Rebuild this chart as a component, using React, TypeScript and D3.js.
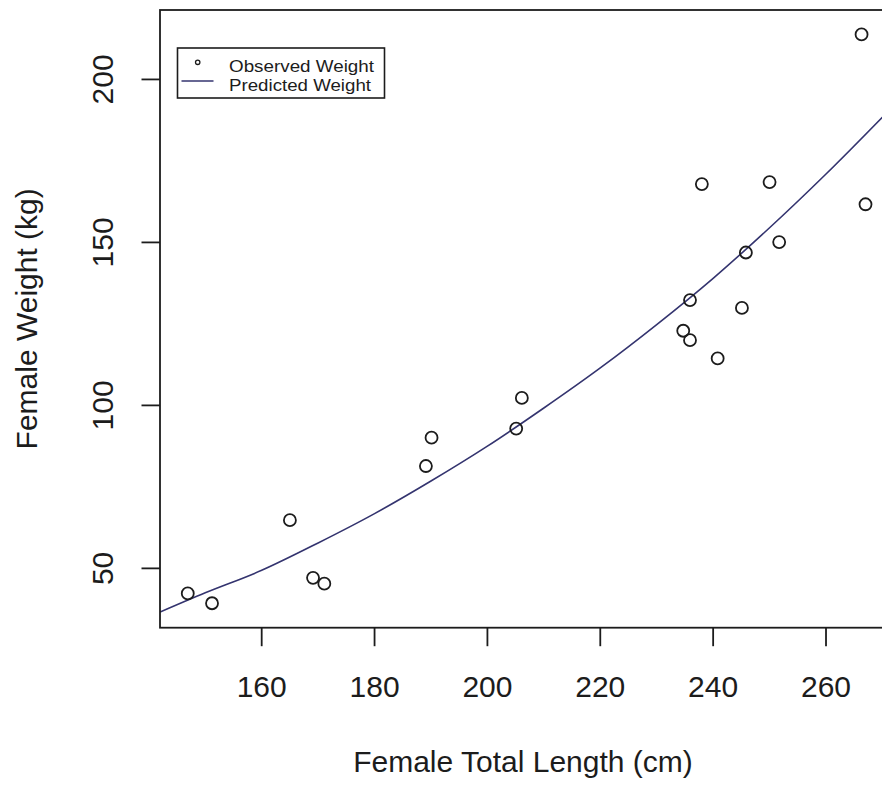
import React from "react";
import * as d3 from "d3";

// Observed female measurements
const femaleLength: number[] = [
  146.9, 151.2, 165.0, 169.1, 171.1, 189.1, 190.1, 205.1, 206.1, 234.7,
  235.9, 235.9, 240.8, 238.0, 245.1, 245.8, 250.0, 251.7, 266.3, 267.0,
];
const femaleWeight: number[] = [
  42.3, 39.3, 64.8, 47.1, 45.3, 81.4, 90.1, 92.9, 102.3, 122.9,
  120.0, 132.3, 114.4, 167.9, 129.9, 146.9, 168.5, 150.1, 213.8, 161.7,
];

// Predicted weight along the length range
const predLength: number[] = [142, 150, 160, 170, 180, 190, 200, 210, 220, 230, 240, 250, 260, 272];
const predWeight: number[] = [36.6, 42.5, 49.4, 57.8, 66.8, 76.8, 87.5, 99.2, 111.5, 124.8, 139.0, 154.5, 171.0, 192.0];

const xTicks: number[] = [160, 180, 200, 220, 240, 260];
const yTicks: number[] = [50, 100, 150, 200];

const legendLabels: string[] = ["Observed Weight", "Predicted Weight"];
const legendWidths: number[] = [145, 142];

const W = 882;
const H = 785;
const plot = { left: 160, top: 10, right: 892.6, bottom: 627.7 };
const FONT = "'Liberation Sans', Arial, Helvetica, sans-serif";
const INK = "#1c1c1c";
const CURVE = "#34346f";

export default function App() {
  const x = d3.scaleLinear().domain([141.98, 271.8]).range([plot.left, plot.right]);
  const y = d3.scaleLinear().domain([31.8, 221.3]).range([plot.bottom, plot.top]);

  const pred = predLength.map((l, i) => [l, predWeight[i]] as [number, number]);
  const linePath = d3
    .line<[number, number]>()
    .x((d) => x(d[0]))
    .y((d) => y(d[1]))
    .curve(d3.curveMonotoneX)(pred) as string;

  const tickLen = 18.5;
  const midY = (plot.top + plot.bottom) / 2;

  return (
    <svg
      width={W}
      height={H}
      viewBox={`0 0 ${W} ${H}`}
      style={{ position: "absolute", left: 0, top: 0, background: "#fff", overflow: "hidden" }}
      fontFamily={FONT}
    >
      <rect x={0} y={0} width={W} height={H} fill="#fff" />
      <defs>
        <clipPath id="plotClip">
          <rect x={plot.left} y={plot.top} width={plot.right - plot.left} height={plot.bottom - plot.top} />
        </clipPath>
      </defs>

      {/* predicted curve */}
      <path d={linePath} fill="none" stroke={CURVE} strokeWidth={1.6} clipPath="url(#plotClip)" />

      {/* observed points */}
      {femaleLength.map((l, i) => (
        <circle
          key={i}
          cx={x(l)}
          cy={y(femaleWeight[i])}
          r={6}
          fill="none"
          stroke={INK}
          strokeWidth={1.8}
        />
      ))}

      {/* plot frame */}
      <rect
        x={plot.left}
        y={plot.top}
        width={plot.right - plot.left}
        height={plot.bottom - plot.top}
        fill="none"
        stroke={INK}
        strokeWidth={1.8}
      />

      {/* x axis */}
      {xTicks.map((t) => (
        <g key={t}>
          <line x1={x(t)} x2={x(t)} y1={plot.bottom} y2={plot.bottom + tickLen} stroke={INK} strokeWidth={1.8} />
          <text x={x(t)} y={696.5} textAnchor="middle" fontSize={30} fill={INK}>
            {t}
          </text>
        </g>
      ))}

      {/* y axis */}
      {yTicks.map((t) => (
        <g key={t}>
          <line x1={plot.left - tickLen} x2={plot.left} y1={y(t)} y2={y(t)} stroke={INK} strokeWidth={1.8} />
          <text
            transform={`translate(113,${y(t)}) rotate(-90)`}
            textAnchor="middle"
            fontSize={30}
            fill={INK}
          >
            {t}
          </text>
        </g>
      ))}

      {/* axis titles */}
      <text x={523} y={771.5} textAnchor="middle" fontSize={30} fill={INK}>
        Female Total Length (cm)
      </text>
      <text transform={`translate(37,${midY}) rotate(-90)`} textAnchor="middle" fontSize={30} fill={INK}>
        Female Weight (kg)
      </text>

      {/* legend */}
      <g>
        <rect x={177.5} y={48} width={207} height={50} fill="#fff" stroke={INK} strokeWidth={1.6} />
        <circle cx={197.7} cy={62.3} r={2.2} fill="none" stroke={INK} strokeWidth={1.3} />
        <line x1={181.5} x2={213.5} y1={81} y2={81} stroke={CURVE} strokeWidth={1.6} />
        {legendLabels.map((s, i) => (
          <text
            key={s}
            x={229}
            y={72 + i * 18.5}
            fontSize={16.5}
            textLength={legendWidths[i]}
            lengthAdjust="spacingAndGlyphs"
            fill={INK}
          >
            {s}
          </text>
        ))}
      </g>
    </svg>
  );
}
